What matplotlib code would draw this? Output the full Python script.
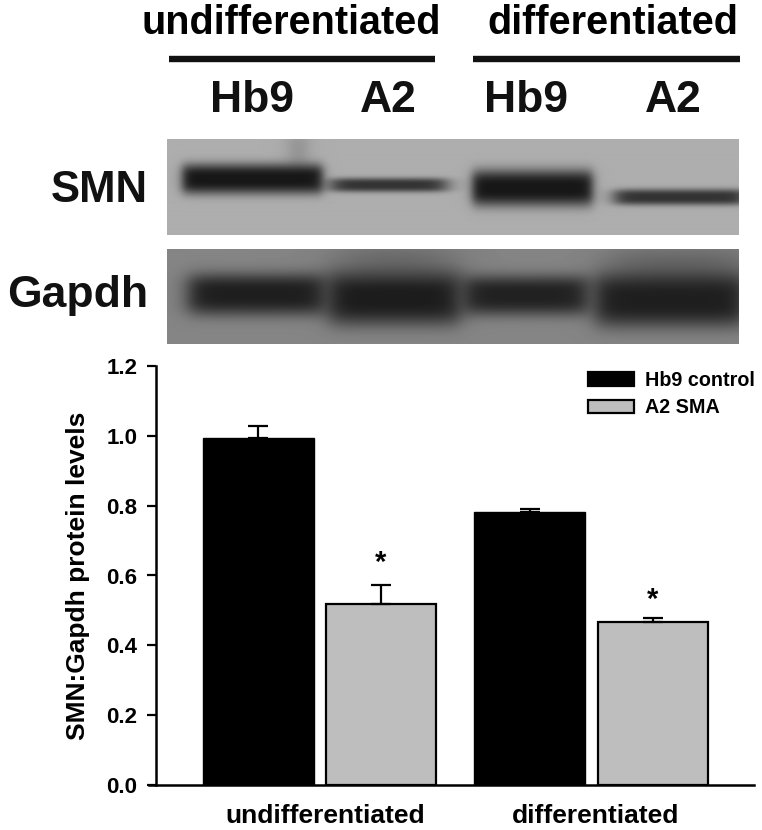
import numpy as np
import matplotlib
matplotlib.use("Agg")
import matplotlib.pyplot as plt
from matplotlib.patches import Patch

plt.rcParams['font.family'] = ['Liberation Sans', 'DejaVu Sans']
plt.rcParams['font.weight'] = 'bold'

# values
groups = ['undifferentiated', 'differentiated']
hb9_values = [0.995, 0.783]
a2_values = [0.518, 0.467]
hb9_err = [0.032, 0.008]
a2_err = [0.055, 0.010]
y_ticks = [0.0, 0.2, 0.4, 0.6, 0.8, 1.0, 1.2]
series_names = ['Hb9 control', 'A2 SMA']
lane_labels = ['Hb9', 'A2', 'Hb9', 'A2']
blot_names = ['SMN', 'Gapdh']

# blot bands: x0, x1, y centre, half height, grey, softness (in image pixels)
smn_bands = [
    (290, 306, 150, 18, 0.55, 5),
    (182, 322, 179, 15, 0.09, 3),
    (330, 446, 185, 7, 0.20, 6),
    (472, 592, 188, 18, 0.09, 3),
    (614, 745, 197, 8, 0.20, 5),
]
gapdh_bands = [
    (340, 450, 262, 18, 0.42, 16),
    (610, 745, 270, 24, 0.40, 14),
    (188, 325, 294, 21, 0.12, 6),
    (328, 460, 298, 27, 0.11, 6),
    (463, 588, 295, 20, 0.13, 6),
    (595, 745, 300, 27, 0.12, 6),
]


def draw_blot(ax, x0, x1, y0, y1, bg, bands):
    """Paint a blurry western blot strip"""
    xx, yy = np.meshgrid(np.arange(x0, x1), np.arange(y0, y1))
    img = np.full(xx.shape, bg, dtype=float)
    for bx0, bx1, cy, hh, grey, soft in bands:
        sx = 1 / (1 + np.exp((bx0 - xx) / soft)) * 1 / (1 + np.exp((xx - bx1) / soft))
        sy = np.exp(-(np.abs(yy - cy) / hh) ** 3)
        a = sx * sy
        img = img * (1 - a) + grey * a
    ax.imshow(img, cmap='gray', vmin=0, vmax=1, extent=(x0, x1, y1, y0),
              aspect='auto', interpolation='bilinear')


fig = plt.figure(figsize=(7.62, 8.30), dpi=100)

# bar chart, placed to match the pixel layout (x axis runs in pixels)
ax = fig.add_axes([156 / 762, 1 - 785 / 830, (754 - 156) / 762, (785 - 366) / 830])
hb9_x = [258, 529.5]
a2_x = [381, 652.5]
ax.bar(hb9_x, hb9_values, width=111, color='black', edgecolor='black', linewidth=1,
       yerr=[[0, 0], hb9_err], ecolor='black',
       error_kw=dict(capsize=7, elinewidth=1.6, capthick=1.6))
ax.bar(a2_x, a2_values, width=110, color='#bebebe', edgecolor='black', linewidth=1.6,
       yerr=[[0, 0], a2_err], ecolor='black',
       error_kw=dict(capsize=7, elinewidth=1.6, capthick=1.6))
ax.set_xlim(156, 754)
ax.set_ylim(0, 1.2)
ax.set_yticks(y_ticks)
ax.set_yticklabels([f'{t:.1f}' for t in y_ticks], fontsize=16, fontweight='bold')
ax.tick_params(axis='y', length=6.5, width=1.6, pad=7)
ax.set_xticks([325, 596])
ax.set_xticklabels(groups, fontsize=19, fontweight='bold')
ax.tick_params(axis='x', length=0, pad=13.5)
for side in ['top', 'right']:
    ax.spines[side].set_visible(False)
for side in ['left', 'bottom']:
    ax.spines[side].set_linewidth(1.8)
ax.spines['bottom'].set_bounds(149, 754)
ax.spines['bottom'].set_clip_on(False)
ax.set_ylabel('SMN:Gapdh protein levels', fontsize=19, fontweight='bold', labelpad=9)
ax.yaxis.set_label_coords((90 - 156) / (754 - 156), (785 - 576) / (785 - 366))

# asterisks over the A2 bars
for x, y in zip(a2_x, [0.635, 0.53]):
    ax.text(x, y, '*', ha='center', va='center', fontsize=21, fontweight='bold')

handles = [Patch(facecolor='black', edgecolor='black', linewidth=1.6),
           Patch(facecolor='#bebebe', edgecolor='black', linewidth=1.6)]
ax.legend(handles, series_names, loc='upper left', frameon=False,
          bbox_to_anchor=((588 - 156) / (754 - 156), 0.988), fontsize=14.2,
          handlelength=2.35, handleheight=0.7, handletextpad=0.55,
          labelspacing=0.42, borderaxespad=0, borderpad=0)

# overlay in image pixels for the blot panels and their labels
ov = fig.add_axes([0, 0, 1, 1], zorder=-1)
draw_blot(ov, 167, 739, 140, 235, 0.68, smn_bands)
draw_blot(ov, 167, 739, 249, 344, 0.52, gapdh_bands)
ov.set_xlim(0, 762)
ov.set_ylim(830, 0)
ov.axis('off')

ov.text(291, 23, groups[0], ha='center', va='center', fontsize=28.5)
ov.text(613, 23, groups[1], ha='center', va='center', fontsize=28.5)
ov.plot([169, 435], [59, 59], color='#111111', lw=4.6, solid_capstyle='butt')
ov.plot([473, 740], [59, 59], color='#111111', lw=4.6, solid_capstyle='butt')
for x, label in zip([252, 388, 526, 673], lane_labels):
    ov.text(x, 101, label, ha='center', va='center', fontsize=32, color='#111111')
ov.text(148, 191, blot_names[0], ha='right', va='center', fontsize=31.5, color='#111111')
ov.text(148, 295, blot_names[1], ha='right', va='center', fontsize=32, color='#111111')

fig.savefig('out.png', dpi=100)
